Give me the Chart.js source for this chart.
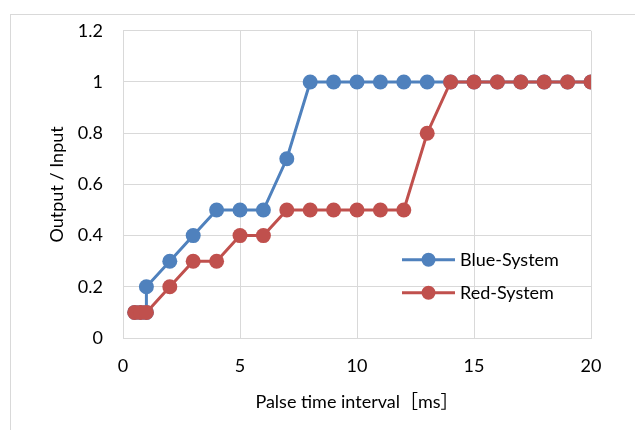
<!DOCTYPE html>
<html>
<head>
<meta charset="utf-8">
<script src="https://cdn.jsdelivr.net/npm/chart.js@4"></script>
<style>
  html, body { margin: 0; padding: 0; background: #fff; }
  #wrap { position: relative; width: 635px; height: 430px; overflow: hidden; }
  #frame { position: absolute; left: 10px; top: 14px; width: 700px; height: 500px; border: 1px solid #d9d9d9; }
  #chart { position: absolute; left: 0; top: 0; }
</style>
</head>
<body>
<div id="wrap">
  <div id="frame"></div>
  <canvas id="chart" width="635" height="430"></canvas>
</div>
<script>
// values
const blueX = [0.5, 0.75, 1, 1, 2, 3, 4, 5, 6, 7, 8, 9, 10, 11, 12, 13, 14, 15, 16, 17, 18, 19, 20];
const blueY = [0.1, 0.1, 0.1, 0.2, 0.3, 0.4, 0.5, 0.5, 0.5, 0.7, 1, 1, 1, 1, 1, 1, 1, 1, 1, 1, 1, 1, 1];
const redX = [0.5, 0.75, 1, 2, 3, 4, 5, 6, 7, 8, 9, 10, 11, 12, 13, 14, 15, 16, 17, 18, 19, 20];
const redY = [0.1, 0.1, 0.1, 0.2, 0.3, 0.3, 0.4, 0.4, 0.5, 0.5, 0.5, 0.5, 0.5, 0.5, 0.8, 1, 1, 1, 1, 1, 1, 1];
const seriesNames = ['Blue-System', 'Red-System'];
const seriesColors = ['#4f81bd', '#c0504d'];
const xTicks = [0, 5, 10, 15, 20];
const yTicks = [0, 0.2, 0.4, 0.6, 0.8, 1, 1.2];

const FONT = 'Lato, "Noto Sans CJK JP", sans-serif';
const FONT_SIZE = 18;
const gridColor = '#d9d9d9';

const toPoints = (xs, ys) => xs.map((x, i) => ({ x: x, y: ys[i] }));

// legend drawn inside the plot area, like the original
const innerLegend = {
  id: 'innerLegend',
  afterDraw(chart) {
    const ctx = chart.ctx;
    const area = chart.chartArea;
    const x0 = area.left + 279;
    const x1 = area.left + 332;
    ctx.save();
    ctx.font = FONT_SIZE + 'px ' + FONT;
    ctx.textBaseline = 'middle';
    seriesNames.forEach((name, i) => {
      const y = area.top + 229 + i * 33;
      ctx.strokeStyle = seriesColors[i];
      ctx.lineWidth = 3;
      ctx.beginPath();
      ctx.moveTo(x0, y);
      ctx.lineTo(x1, y);
      ctx.stroke();
      ctx.fillStyle = seriesColors[i];
      ctx.beginPath();
      ctx.arc((x0 + x1) / 2, y, 7, 0, Math.PI * 2);
      ctx.fill();
      ctx.fillStyle = '#000';
      ctx.fillText(name, x1 + 5, y);
    });
    ctx.restore();
  }
};

new Chart(document.getElementById('chart'), {
  type: 'line',
  data: {
    datasets: [
      {
        label: seriesNames[0],
        data: toPoints(blueX, blueY),
        borderColor: seriesColors[0],
        backgroundColor: seriesColors[0],
        borderWidth: 3,
        pointRadius: 7.5,
        pointBorderWidth: 0,
        order: 1
      },
      {
        label: seriesNames[1],
        data: toPoints(redX, redY),
        borderColor: seriesColors[1],
        backgroundColor: seriesColors[1],
        borderWidth: 3,
        pointRadius: 7.5,
        pointBorderWidth: 0,
        order: 0
      }
    ]
  },
  options: {
    responsive: false,
    animation: false,
    layout: { padding: { left: 40, top: 30, right: 44, bottom: 17 } },
    plugins: {
      legend: { display: false },
      tooltip: { enabled: false }
    },
    scales: {
      x: {
        type: 'linear',
        min: 0,
        max: 20,
        afterBuildTicks: (s) => { s.ticks = xTicks.map(v => ({ value: v })); },
        afterFit: (s) => { s.height = 75; },
        grid: { color: gridColor, drawTicks: false },
        border: { color: gridColor },
        ticks: { color: '#000', padding: 17, font: { family: FONT, size: FONT_SIZE } },
        title: {
          display: true,
          text: 'Palse time interval［ms］',
          color: '#000',
          padding: { top: 0, bottom: 0 },
          font: { family: FONT, size: FONT_SIZE }
        }
      },
      y: {
        min: 0,
        max: 1.2,
        afterBuildTicks: (s) => { s.ticks = yTicks.map(v => ({ value: v })); },
        afterFit: (s) => { s.width = 83; },
        grid: { color: gridColor, drawTicks: false },
        border: { color: gridColor },
        ticks: {
          color: '#000',
          padding: 20,
          font: { family: FONT, size: FONT_SIZE },
          callback: (v) => String(Math.round(v * 10) / 10)
        },
        title: {
          display: true,
          text: 'Output / Input',
          color: '#000',
          padding: { top: 6, bottom: 0 },
          font: { family: FONT, size: FONT_SIZE }
        }
      }
    }
  },
  plugins: [innerLegend]
});
</script>
</body>
</html>
